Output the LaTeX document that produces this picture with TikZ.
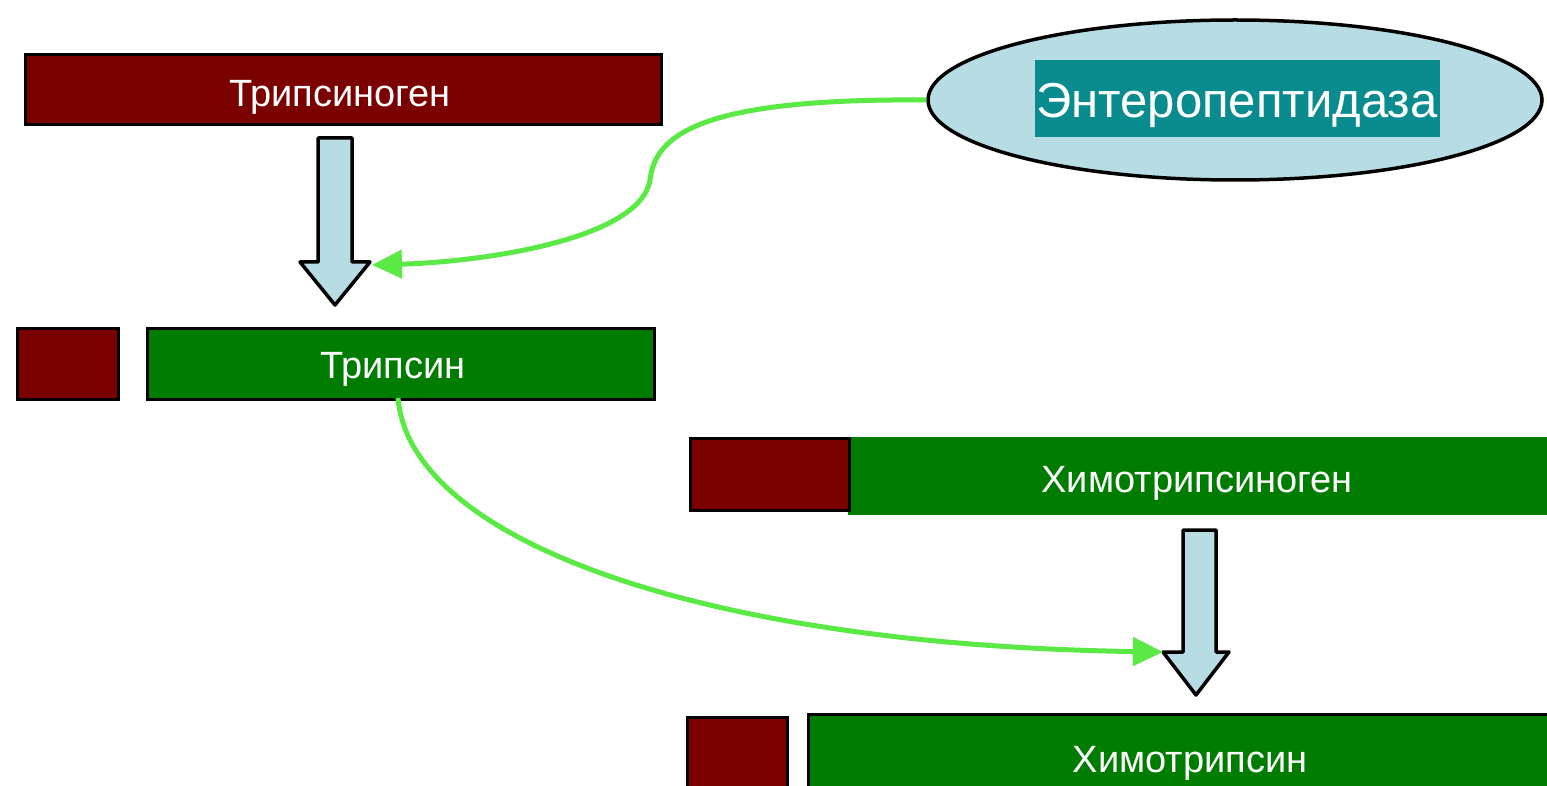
\documentclass[tikz,border=0pt]{standalone}
\usepackage{fontspec}
\setmainfont{Liberation Sans}
\usetikzlibrary{arrows.meta,shapes.geometric}
\definecolor{dred}{HTML}{7B0000}
\definecolor{dgreen}{HTML}{007C00}
\definecolor{lblue}{HTML}{B7DCE3}
\definecolor{teal2}{HTML}{0A8C8F}
\definecolor{lgreen}{HTML}{5BEA45}
\tikzset{
  redbox/.style={draw=black, line width=3pt, fill=dred, inner sep=0pt, anchor=north west},
  greenbox/.style={draw=black, line width=3pt, fill=dgreen, inner sep=0pt, anchor=north west},
  greenplain/.style={fill=dgreen, inner sep=0pt, anchor=north west},
  lbl/.style={text=white, anchor=base, inner sep=0pt, font=\fontsize{38}{44}\selectfont},
  blockarrow/.style={draw=black, line width=3.5pt, fill=lblue, line join=round},
  greenarrow/.style={draw=lgreen, line width=5pt, -{Triangle[length=30pt,width=28pt]}},
}
\begin{document}
\begin{tikzpicture}[x=1pt,y=-1pt]
\useasboundingbox (0,0) rectangle (1547,786);
% boxes
\node[redbox, minimum width=636pt, minimum height=70pt] (tg) at (24,53) {};
\node[redbox, minimum width=101pt, minimum height=71pt] (tnr) at (16,327) {};
\node[greenbox, minimum width=507pt, minimum height=71pt] (tn) at (146,327) {};
\node[greenplain, minimum width=700pt, minimum height=78pt] (ctg) at (848,437) {};
\node[redbox, minimum width=159pt, minimum height=72pt] (ctgr) at (689,437) {};
\node[redbox, minimum width=100pt, minimum height=72pt] (ctr) at (686,716) {};
\node[greenbox, minimum width=745pt, minimum height=76pt] (ct) at (807,713) {};
% labels
\node[lbl] at (340,107) {Трипсиноген};
\node[lbl] at (393,378) {Трипсин};
\node[lbl] at (1197,492) {Химотрипсиноген};
\node[lbl] at (1190,772) {Химотрипсин};
% ellipse
\node[ellipse, draw=black, line width=3.5pt, fill=lblue, minimum width=614pt, minimum height=160pt] (ep) at (1235,100) {};
\node[fill=teal2, minimum width=405pt, minimum height=77pt, inner sep=0pt] (eplab) at (1237,98.5) {};
\node[text=white, anchor=base, inner sep=0pt, font=\fontsize{49}{54}\selectfont] at (1237,118) {Энтеропептидаза};
% block arrows
\draw[blockarrow] (318,138) -- (352,138) -- (352,262) -- (370,262) -- (335,305) -- (300,262) -- (318,262) -- cycle;
\coordinate (a1) at (372,265);
\draw[blockarrow] (1183,530) -- (1216,530) -- (1216,652) -- (1229,652) -- (1196,695) -- (1163,652) -- (1183,652) -- cycle;
\coordinate (a2) at (1163,652);
% green arrows
\draw[greenarrow] (ep.west) .. controls (700,98) and (655,135) .. (650,180) .. controls (640,240) and (480,262) .. (a1);
\draw[greenarrow] (398,398) .. controls (410,540) and (700,645) .. (a2);
\end{tikzpicture}
\end{document}
